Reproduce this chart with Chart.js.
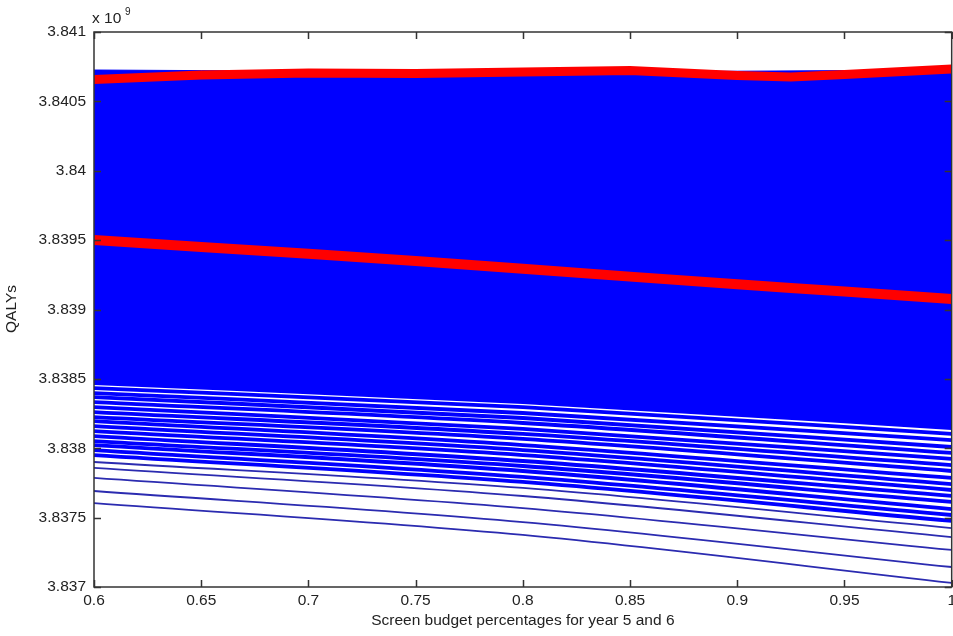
<!DOCTYPE html>
<html><head><meta charset="utf-8">
<script src="https://cdn.jsdelivr.net/npm/chart.js@4/dist/chart.umd.min.js"></script>
<style>
html,body{margin:0;padding:0;background:#fff;overflow:hidden;width:953px;height:636px}
#wrap{position:relative;width:960px;height:636px}
</style></head>
<body><div id="wrap"><canvas id="c" width="960" height="636"></canvas></div>
<script>
// ---- data (QALYs in units of 10^9) ----
const xTicks = [0.6, 0.65, 0.7, 0.75, 0.8, 0.85, 0.9, 0.95, 1];
const yTicks = [3.837, 3.8375, 3.838, 3.8385, 3.839, 3.8395, 3.84, 3.8405, 3.841];

// fan of blue curves, values at x = 0.6, 0.8, 1.0
const fanX = [0.6, 0.8, 1.0];
const bandTop = [3.840726, 3.840712, 3.840726];
const bandLines = [
  [3.838470, 3.838333, 3.838146],
  [3.838434, 3.838297, 3.838103],
  [3.838398, 3.838254, 3.838059],
  [3.838369, 3.838218, 3.838009],
  [3.838333, 3.838182, 3.837966],
  [3.838297, 3.838139, 3.837923],
  [3.838261, 3.838103, 3.837879],
  [3.838225, 3.838067, 3.837836],
  [3.838196, 3.838023, 3.837786],
  [3.838160, 3.837987, 3.837742],
  [3.838124, 3.837951, 3.837699],
  [3.838088, 3.837908, 3.837656],
  [3.838052, 3.837872, 3.837613],
  [3.838023, 3.837836, 3.837562],
  [3.837987, 3.837793, 3.837519],
  [3.837951, 3.837757, 3.837476]
];
const lowerLines = [
  [3.837901, 3.837714, 3.837425],
  [3.837858, 3.837656, 3.837360],
  [3.837786, 3.837569, 3.837267],
  [3.837692, 3.837468, 3.837144],
  [3.837605, 3.837375, 3.837029]
];

// highlighted red curves
const redX = [0.6, 0.65, 0.7, 0.75, 0.8, 0.85, 0.9, 0.925, 0.95, 1.0];
const redUpper = [3.840658, 3.840690, 3.840705, 3.840701, 3.840712, 3.840723, 3.840686, 3.840676, 3.840694, 3.840733];
const redLower = [3.839501, 3.839451, 3.839401, 3.839350, 3.839293, 3.839237, 3.839182, 3.839155, 3.839129, 3.839076];

const BLUE = '#0000ff';
const pts = (xs, ys) => xs.map((x, i) => ({x, y: ys[i]}));

const datasets = [];
datasets.push({data: pts(redX, redUpper), borderColor: '#ff0000', borderWidth: 9, order: 0, tension: 0});
datasets.push({data: pts(redX, redLower), borderColor: '#ff0000', borderWidth: 10, order: 0, tension: 0});
const topIdx = datasets.length;
datasets.push({data: pts(fanX, bandTop), borderColor: BLUE, borderWidth: 1, order: 3, cubicInterpolationMode: 'monotone', fill: false});
bandLines.forEach((ys, i) => {
  datasets.push({
    data: pts(fanX, ys), borderColor: BLUE, borderWidth: 3.8, order: i === 0 ? 3 : 2,
    cubicInterpolationMode: 'monotone',
    fill: i === 0 ? {target: topIdx} : false,
    backgroundColor: BLUE
  });
});
lowerLines.forEach(ys => {
  datasets.push({data: pts(fanX, ys), borderColor: '#2b2bb0', borderWidth: 1.8, order: 2, cubicInterpolationMode: 'monotone', fill: false});
});

const fmt = v => String(Number(v.toFixed(4)));
const FONT = "'Liberation Sans', Arial, sans-serif";

const frame = {
  id: 'frame',
  afterDraw(chart) {
    const {ctx, chartArea: a, scales: {x, y}} = chart;
    ctx.save();
    ctx.strokeStyle = '#333';
    ctx.lineWidth = 1.5;
    ctx.strokeRect(a.left, a.top, a.right - a.left, a.bottom - a.top);
    ctx.beginPath();
    const tl = 7;
    xTicks.forEach(t => {
      const px = Math.round(x.getPixelForValue(t)) + 0.5;
      ctx.moveTo(px, a.bottom); ctx.lineTo(px, a.bottom - tl);
      ctx.moveTo(px, a.top); ctx.lineTo(px, a.top + tl);
    });
    yTicks.forEach(t => {
      const py = Math.round(y.getPixelForValue(t)) + 0.5;
      ctx.moveTo(a.left, py); ctx.lineTo(a.left + tl, py);
      ctx.moveTo(a.right, py); ctx.lineTo(a.right - tl, py);
    });
    ctx.stroke();
    ctx.fillStyle = '#222';
    ctx.font = "15.5px " + FONT;
    ctx.textAlign = 'left';
    ctx.textBaseline = 'alphabetic';
    ctx.fillText('x 10', 92, 23);
    ctx.font = "10px " + FONT;
    ctx.fillText('9', 125, 15);
    ctx.font = "15.5px " + FONT;
    ctx.textAlign = 'center';
    ctx.textBaseline = 'middle';
    ctx.fillText('Screen budget percentages for year 5 and 6', (a.left + a.right) / 2, 621);
    ctx.translate(12, 309);
    ctx.rotate(-Math.PI / 2);
    ctx.fillText('QALYs', 0, 0);
    ctx.restore();
  }
};

Chart.defaults.font.family = FONT;
Chart.defaults.font.size = 15.5;
Chart.defaults.color = '#222';

new Chart(document.getElementById('c'), {
  type: 'line',
  data: {datasets},
  options: {
    responsive: false,
    animation: false,
    events: [],
    layout: {padding: {top: 32, left: 0, right: 6, bottom: 0}},
    elements: {point: {radius: 0}, line: {borderCapStyle: 'butt'}},
    plugins: {legend: {display: false}, tooltip: {enabled: false}},
    scales: {
      x: {
        type: 'linear', min: 0.6, max: 1,
        grid: {display: false, drawTicks: false}, border: {display: false},
        afterBuildTicks: s => { s.ticks = xTicks.map(v => ({value: v})); },
        ticks: {padding: 4, maxRotation: 0, autoSkip: false, callback: v => fmt(v)},
        afterFit: s => { s.height = 49; }
      },
      y: {
        type: 'linear', min: 3.837, max: 3.841,
        grid: {display: false, drawTicks: false}, border: {display: false},
        afterBuildTicks: s => { s.ticks = yTicks.map(v => ({value: v})); },
        ticks: {padding: 8, autoSkip: false, callback: v => fmt(v)},
        afterFit: s => { s.width = 94; }
      }
    }
  },
  plugins: [frame]
});
</script>
</body></html>
